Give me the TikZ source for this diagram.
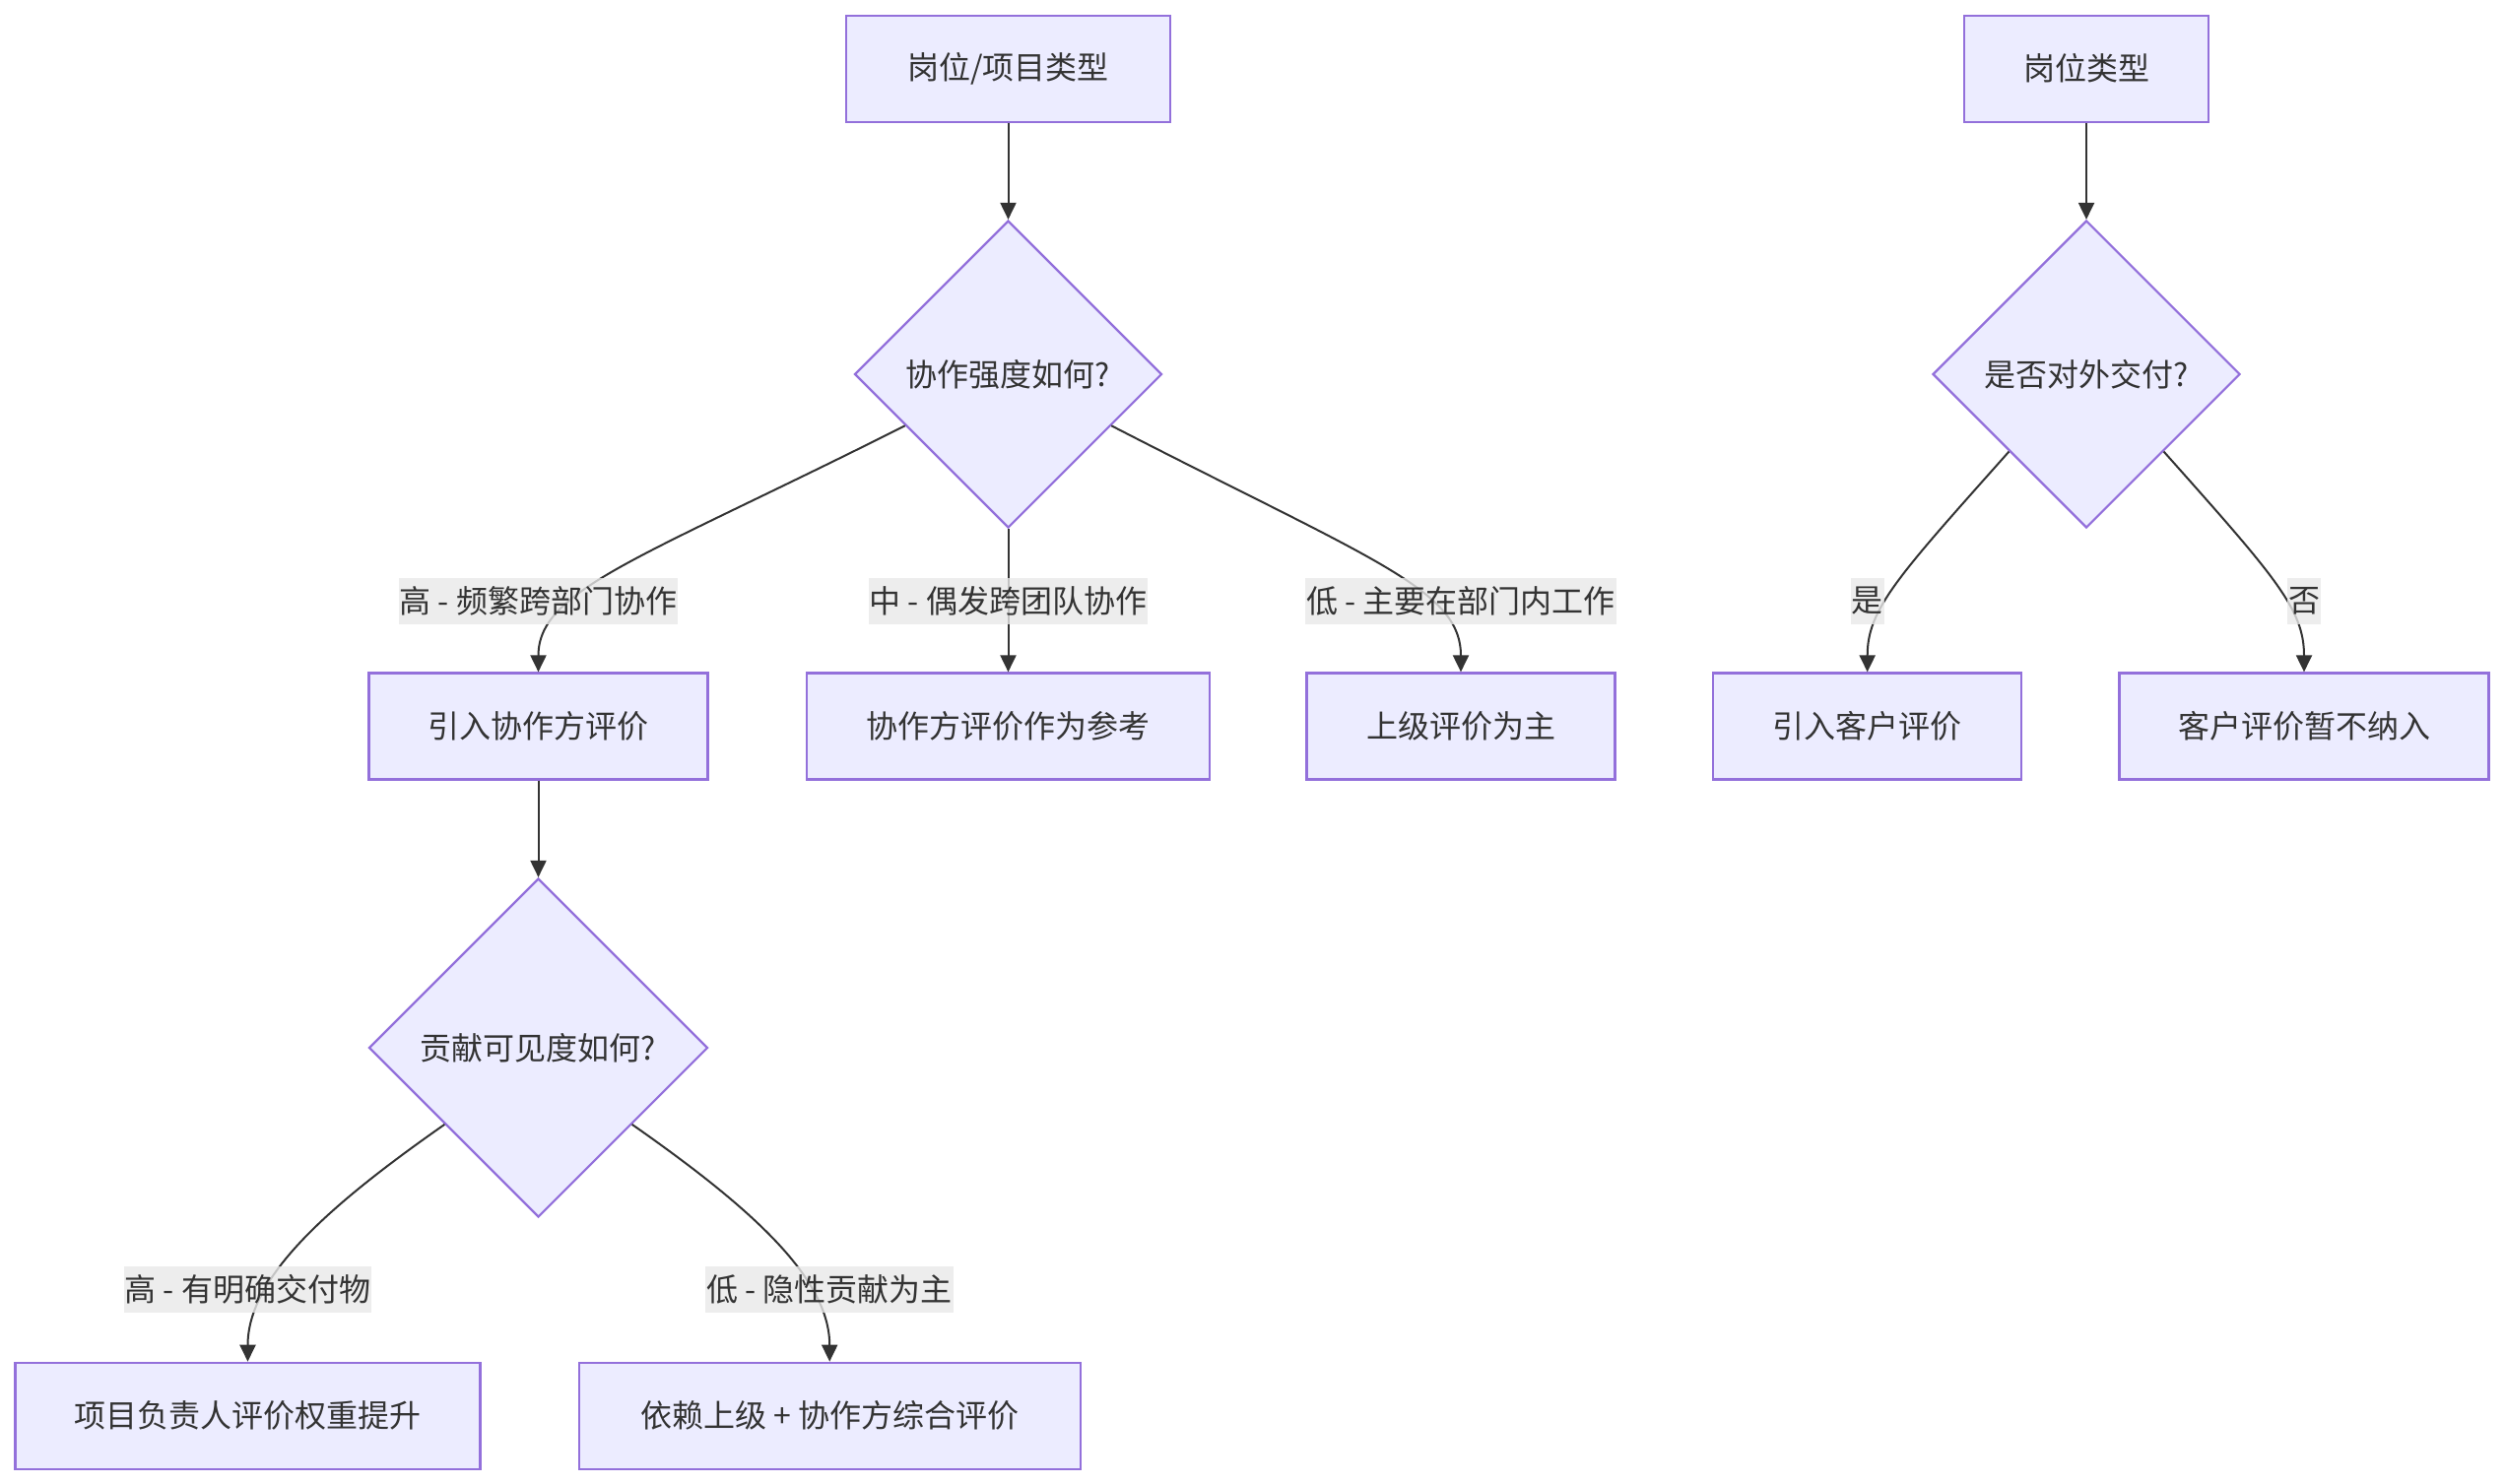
\documentclass[tikz,border=0pt]{standalone}
\usepackage{fontspec}
\setmainfont{Noto Sans CJK SC}
\usetikzlibrary{shapes.geometric,arrows.meta,calc}
\definecolor{nodefill}{HTML}{ECECFF}
\definecolor{nodeline}{HTML}{9370DB}
\definecolor{edgeline}{HTML}{333333}
\definecolor{txt}{HTML}{333333}
\definecolor{lblbg}{HTML}{E8E8E8}
\begin{document}
\begin{tikzpicture}[x=1pt,y=-1pt,
  every node/.style={font=\fontsize{32pt}{38pt}\selectfont, text=txt},
  box/.style={draw=nodeline, fill=nodefill, line width=2.2pt, minimum height=108pt, inner sep=0pt},
  decision/.style={diamond, draw=nodeline, fill=nodefill, line width=2.2pt, inner sep=0pt, aspect=1},
  elabel/.style={fill=lblbg, fill opacity=0.8, text opacity=1, inner xsep=1pt, inner ysep=0pt, minimum height=47pt},
  edge/.style={draw=edgeline, line width=2pt, -{Triangle[length=17pt,width=16pt]}}
]
\useasboundingbox (0,0) rectangle (2543,1507);

\node[box, minimum width=329pt] (a) at (1023.5,69.7) {岗位/项目类型};
\node[decision, minimum width=312pt, minimum height=312pt] (d1) at (1023.5,380) {协作强度如何?};
\node[box, minimum width=344pt] (b1) at (546.5,737.5) {引入协作方评价};
\node[box, minimum width=409pt] (b2) at (1023.5,737.5) {协作方评价作为参考};
\node[box, minimum width=313pt] (b3) at (1483,737.5) {上级评价为主};
\node[decision, minimum width=344pt, minimum height=344pt] (d2) at (546.5,1064) {贡献可见度如何?};
\node[box, minimum width=472pt] (c1) at (251.5,1437.8) {项目负责人评价权重提升};
\node[box, minimum width=509pt] (c2) at (842.2,1437.8) {依赖上级 + 协作方综合评价};
\node[box, minimum width=248pt] (e) at (2118,69.7) {岗位类型};
\node[decision, minimum width=312pt, minimum height=312pt] (d3) at (2118,380) {是否对外交付?};
\node[box, minimum width=313pt] (f1) at (1895.7,737.5) {引入客户评价};
\node[box, minimum width=375pt] (f2) at (2339,737.5) {客户评价暂不纳入};

\draw[edge] (a.south) -- (d1.north);
\draw[edge] ($(d1.west)!0.333!(d1.south)$) .. controls +(-268,135) and +(0,-84) .. (b1.north);
\draw[edge] (d1.south) -- (b2.north);
\draw[edge] ($(d1.east)!0.333!(d1.south)$) .. controls +(266,137) and +(0,-84) .. (b3.north);
\draw[edge] (b1.south) -- (d2.north);
\draw[edge] ($(d2.west)!0.45!(d2.south)$) .. controls +(-123,86) and +(0,-84) .. (c1.north);
\draw[edge] ($(d2.east)!0.45!(d2.south)$) .. controls +(123,86) and +(0,-84) .. (c2.north);
\draw[edge] (e.south) -- (d3.north);
\draw[edge] ($(d3.west)!0.5!(d3.south)$) .. controls +(-113,127) and +(0,-64) .. (f1.north);
\draw[edge] ($(d3.east)!0.5!(d3.south)$) .. controls +(113,127) and +(0,-64) .. (f2.north);

\node[elabel] (l1) at (546.5,610) {高 - 频繁跨部门协作};
\node[elabel] (l2) at (1023.5,610) {中 - 偶发跨团队协作};
\node[elabel] (l3) at (1483,610) {低 - 主要在部门内工作};
\node[elabel] (l4) at (1895.7,610) {是};
\node[elabel] (l5) at (2339,610) {否};
\node[elabel] (l6) at (251.5,1309.6) {高 - 有明确交付物};
\node[elabel] (l7) at (842.2,1309.6) {低 - 隐性贡献为主};
\end{tikzpicture}
\end{document}
